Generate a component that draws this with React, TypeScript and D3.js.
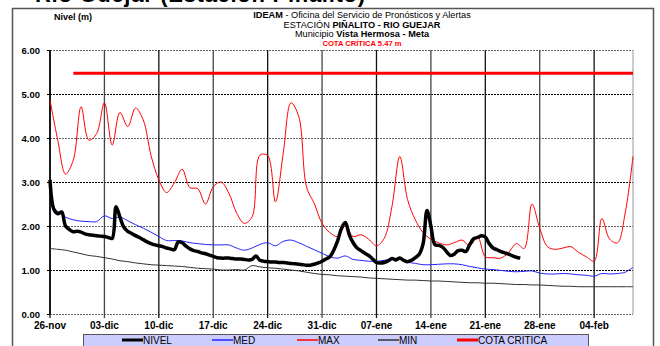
import React, { useEffect, useRef } from 'react';
import * as d3 from 'd3';

// daily series from 26-nov (index 0) to 09-feb (index 75)
const maxValues = [
  4.86, 3.95, 3.18, 3.5, 4.71, 3.95, 4.1, 4.8, 3.84, 4.58,
  4.26, 4.68, 4.41, 3.6, 3.05, 2.76, 2.98, 3.29, 2.87, 2.85,
  2.5, 2.89, 3.0, 2.75, 2.3, 2.06, 2.21, 3.61, 3.6, 2.55,
  3.65, 4.8, 4.49, 2.89, 2.51, 2.06, 1.85, 1.76, 2.0, 1.76,
  1.8, 1.7, 1.55, 1.72, 2.45, 3.58, 2.6, 2.14, 1.85, 1.7,
  1.62, 1.57, 1.62, 1.68, 1.55, 1.76, 1.3, 1.28, 1.27, 1.4,
  1.6, 1.49, 2.5, 1.95, 1.53, 1.47, 1.5, 1.53, 1.4, 1.3,
  1.2, 2.17, 1.7, 1.62, 2.3, 3.58,
];

const medValues = [
  2.48, 2.33, 2.2, 2.14, 2.11, 2.1, 2.1, 2.23, 2.17, 2.2,
  2.12, 2.03, 1.95, 1.86, 1.76, 1.67, 1.67, 1.66, 1.62, 1.6,
  1.58, 1.57, 1.57, 1.57, 1.5, 1.45, 1.5, 1.58, 1.62, 1.55,
  1.65, 1.68, 1.62, 1.54, 1.46, 1.38, 1.3, 1.27, 1.32, 1.24,
  1.22, 1.2, 1.2, 1.22, 1.25, 1.27, 1.18, 1.15, 1.12, 1.12,
  1.13, 1.14, 1.14, 1.12, 1.08, 1.05, 1.02, 1.01, 0.99, 0.97,
  0.96, 0.97, 0.98, 0.93, 0.91, 0.91, 0.92, 0.91, 0.89, 0.88,
  0.86, 0.92, 0.91, 0.92, 0.95, 1.06,
];

const minValues = [
  1.49, 1.47, 1.45, 1.41, 1.37, 1.33, 1.31, 1.28, 1.25, 1.21,
  1.19, 1.16, 1.14, 1.12, 1.11, 1.1, 1.09, 1.08, 1.06, 1.04,
  1.03, 1.02, 1.0, 1.0, 1.01, 1.0, 1.1, 1.07, 1.05, 1.04,
  1.02, 1.0, 0.98, 0.95, 0.92, 0.9, 0.89, 0.87, 0.86, 0.85,
  0.84, 0.82, 0.81, 0.8, 0.79, 0.78, 0.77, 0.77, 0.76, 0.75,
  0.75, 0.74, 0.73, 0.72, 0.71, 0.71, 0.7, 0.7, 0.69, 0.68,
  0.67, 0.67, 0.66, 0.66, 0.65, 0.64, 0.63, 0.63, 0.62, 0.62,
  0.62, 0.62, 0.62, 0.62, 0.62, 0.62,
];

// observed level, two readings per day (every 12 h) from 26-nov
const nivelValues = [
  3.05, 2.38, 2.28, 2.32, 2.0, 1.92, 1.87, 1.88, 1.86, 1.82,
  1.8, 1.79, 1.78, 1.77, 1.76, 1.74, 1.72, 2.44, 2.2, 1.97,
  1.88, 1.83, 1.78, 1.74, 1.69, 1.64, 1.6, 1.57, 1.55, 1.53,
  1.5, 1.48, 1.46, 1.64, 1.62, 1.54, 1.48, 1.44, 1.42, 1.39,
  1.37, 1.34, 1.31, 1.28, 1.27, 1.27, 1.27, 1.26, 1.25, 1.25,
  1.24, 1.23, 1.24, 1.32, 1.22, 1.2, 1.19, 1.18, 1.18, 1.17,
  1.17, 1.16, 1.15, 1.14, 1.13, 1.12, 1.11, 1.11, 1.13, 1.16,
  1.2, 1.25, 1.3, 1.45, 1.66, 1.95, 2.08, 1.8, 1.62, 1.5,
  1.44, 1.38, 1.33, 1.25, 1.17, 1.16, 1.17, 1.21, 1.26, 1.23,
  1.27, 1.22, 1.19, 1.22, 1.28, 1.36, 1.6, 2.35, 2.0, 1.58,
  1.56, 1.52, 1.42, 1.33, 1.36, 1.44, 1.45, 1.42, 1.58, 1.71,
  1.74, 1.78, 1.75, 1.6, 1.5, 1.46, 1.42, 1.39, 1.36, 1.32,
  1.29, 1.27,
];

const cotaCritica = 5.47;
const cotaStartDay = 3;

const tickLabels = [
  '26-nov', '03-dic', '10-dic', '17-dic', '24-dic', '31-dic',
  '07-ene', '14-ene', '21-ene', '28-ene', '04-feb',
];
const yTicks = [0, 1, 2, 3, 4, 5, 6];

const legendItems = ['NIVEL', 'MED', 'MAX', 'MIN', 'COTA CRITICA'];

const FONT = 'Liberation Sans, Arial, sans-serif';

export default function App() {
  const svgRef = useRef<SVGSVGElement>(null);

  useEffect(() => {
    if (!svgRef.current) return;
    const svg = d3.select(svgRef.current);
    svg.selectAll('*').remove();

    const width = 660;
    const height = 346;
    const left = 50, right = 633, top = 50, bottom = 314;

    const start = new Date(2023, 10, 26);
    const end = d3.timeDay.offset(start, 75);
    const dayDates = d3.range(maxValues.length).map(i => d3.timeDay.offset(start, i));
    const halfDates = d3.range(nivelValues.length).map(i => d3.timeHour.offset(start, i * 12));

    const x = d3.scaleTime().domain([start, end]).range([left, right]);
    const y = d3.scaleLinear().domain([0, 6]).range([bottom, top]);

    svg.attr('width', width).attr('height', height);

    // heading that is cut off by the top of the picture
    svg.append('text')
      .attr('x', 35).attr('y', 1.5)
      .attr('font-family', FONT).attr('font-size', 22).attr('font-weight', 'bold')
      .attr('textLength', 330)
      .text('Río Guejar (Estación Piñalito)');

    // outer frame
    svg.append('rect')
      .attr('x', 12.5).attr('y', 8.5).attr('width', 641).attr('height', 345)
      .attr('fill', 'white').attr('stroke', '#555').attr('stroke-width', 1.5);

    // titles
    const cx = 362;
    const t1 = svg.append('text').attr('x', cx).attr('y', 18).attr('text-anchor', 'middle')
      .attr('font-family', FONT).attr('font-size', 9.2);
    t1.append('tspan').attr('font-weight', 'bold').text('IDEAM');
    t1.append('tspan').text(' - Oficina del Servicio de Pronósticos y Alertas');
    const t2 = svg.append('text').attr('x', cx).attr('y', 27.5).attr('text-anchor', 'middle')
      .attr('font-family', FONT).attr('font-size', 9.2);
    t2.append('tspan').text('ESTACIÓN ');
    t2.append('tspan').attr('font-weight', 'bold').text('PIÑALITO  - RIO GUEJAR');
    const t3 = svg.append('text').attr('x', cx).attr('y', 36.5).attr('text-anchor', 'middle')
      .attr('font-family', FONT).attr('font-size', 9.2);
    t3.append('tspan').text('Municipio ');
    t3.append('tspan').attr('font-weight', 'bold').text('Vista Hermosa - Meta');
    svg.append('text').attr('x', cx).attr('y', 45.5).attr('text-anchor', 'middle')
      .attr('font-family', FONT).attr('font-size', 7.6).attr('font-weight', 'bold')
      .attr('fill', '#ff0000')
      .text(`COTA CRÍTICA ${cotaCritica} m`);

    svg.append('text').attr('x', 54).attr('y', 20)
      .attr('font-family', FONT).attr('font-size', 9).attr('font-weight', 'bold')
      .text('Nivel (m)');

    // horizontal grid
    yTicks.forEach(v => {
      svg.append('line')
        .attr('x1', left).attr('x2', right)
        .attr('y1', Math.round(y(v)) + 0.5).attr('y2', Math.round(y(v)) + 0.5)
        .attr('stroke', v % 2 === 1 ? '#000' : '#666').attr('stroke-width', 1)
        .attr('stroke-dasharray', '2 1');
      svg.append('line')
        .attr('x1', left - 3).attr('x2', left)
        .attr('y1', Math.round(y(v)) + 0.5).attr('y2', Math.round(y(v)) + 0.5)
        .attr('stroke', '#000');
      svg.append('text')
        .attr('x', 40).attr('y', y(v) + 3.5)
        .attr('text-anchor', 'end')
        .attr('font-family', FONT).attr('font-size', 9.5).attr('font-weight', 'bold')
        .text(v.toFixed(2));
    });

    // vertical grid & x labels
    tickLabels.forEach((lab, i) => {
      const px = x(d3.timeDay.offset(start, i * 7));
      svg.append('line')
        .attr('x1', px).attr('x2', px).attr('y1', top).attr('y2', bottom + 4)
        .attr('stroke', i % 2 === 0 ? '#111' : '#444').attr('stroke-width', 1.3);
      svg.append('text')
        .attr('x', px).attr('y', 329)
        .attr('text-anchor', 'middle')
        .attr('font-family', FONT).attr('font-size', 10).attr('font-weight', 'bold')
        .text(lab);
    });

    // right edge of plot
    svg.append('line')
      .attr('x1', right).attr('x2', right).attr('y1', top).attr('y2', bottom)
      .attr('stroke', '#999').attr('stroke-width', 1);
    // left axis
    svg.append('line')
      .attr('x1', left).attr('x2', left).attr('y1', top).attr('y2', bottom)
      .attr('stroke', '#000').attr('stroke-width', 1.5);

    const curve = d3.curveCatmullRom.alpha(0.5);
    const daily = d3.line<number>()
      .x((_, i) => x(dayDates[i]))
      .y(d => y(d))
      .curve(curve);

    svg.append('path').datum(minValues).attr('d', daily)
      .attr('fill', 'none').attr('stroke', '#333').attr('stroke-width', 1);
    svg.append('path').datum(medValues).attr('d', daily)
      .attr('fill', 'none').attr('stroke', '#2222ff').attr('stroke-width', 1);
    svg.append('path').datum(maxValues).attr('d', daily)
      .attr('fill', 'none').attr('stroke', '#ff0000').attr('stroke-width', 1);

    const nivelLine = d3.line<number>()
      .x((_, i) => x(halfDates[i]))
      .y(d => y(d))
      .curve(curve);
    svg.append('path').datum(nivelValues).attr('d', nivelLine)
      .attr('fill', 'none').attr('stroke', '#000').attr('stroke-width', 3.5)
      .attr('stroke-linejoin', 'round');

    // critical level
    const cotaDates = dayDates.slice(cotaStartDay);
    svg.append('path')
      .datum(cotaDates)
      .attr('d', d3.line<Date>().x(d => x(d)).y(() => y(cotaCritica)))
      .attr('fill', 'none').attr('stroke', '#ff0000').attr('stroke-width', 3);

    // legend
    svg.append('rect')
      .attr('x', 83.5).attr('y', 334.5).attr('width', 505).attr('height', 13)
      .attr('fill', '#ccccff').attr('stroke', '#555');
    const legendX = [122, 212, 297, 378, 457];
    const legendStyle = [
      { c: '#000', w: 3 }, { c: '#2222ff', w: 1.5 }, { c: '#ff0000', w: 1.5 },
      { c: '#333', w: 1.5 }, { c: '#ff0000', w: 3 },
    ];
    legendItems.forEach((name, i) => {
      const lx = legendX[i];
      svg.append('line')
        .attr('x1', lx).attr('x2', lx + 21).attr('y1', 340).attr('y2', 340)
        .attr('stroke', legendStyle[i].c).attr('stroke-width', legendStyle[i].w);
      svg.append('text')
        .attr('x', lx + 21).attr('y', 343.5)
        .attr('font-family', FONT).attr('font-size', 10)
        .text(name);
    });
  }, []);

  return (
    <svg ref={svgRef} style={{ position: 'absolute', left: 0, top: 0, background: 'white' }} />
  );
}
